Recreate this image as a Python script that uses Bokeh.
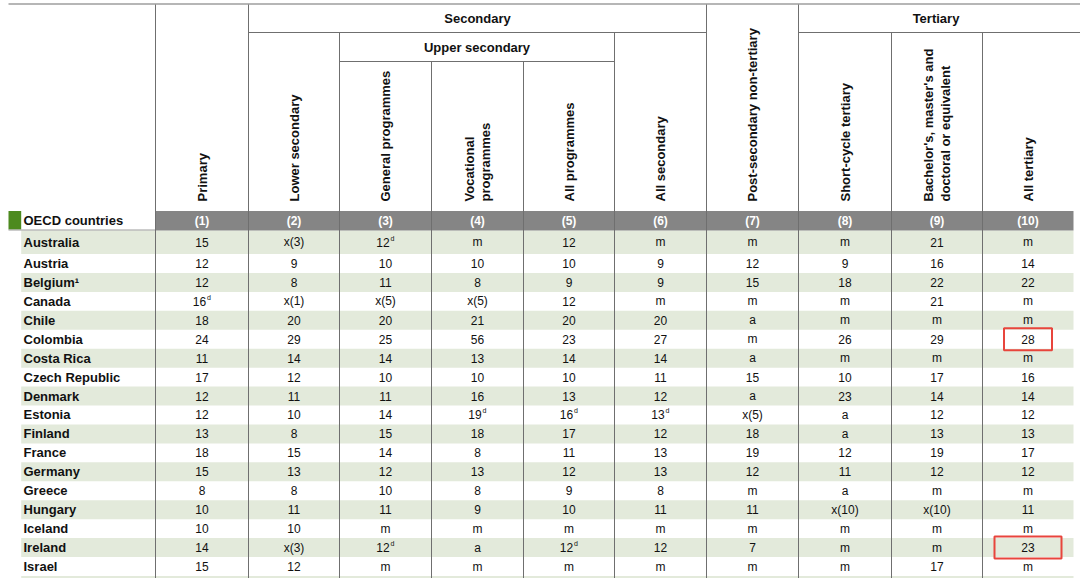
import numpy as np
from bokeh.plotting import figure
from bokeh.models import Range1d
from bokeh.embed import file_html
from bokeh.resources import INLINE
from bokeh.core.properties import value

# ---------------- data ----------------
countries = ["Australia", "Austria", "Belgium\u00b9", "Canada", "Chile", "Colombia",
             "Costa Rica", "Czech Republic", "Denmark", "Estonia", "Finland", "France",
             "Germany", "Greece", "Hungary", "Iceland", "Ireland", "Israel"]

col_primary    = ["15", "12", "12", "16^d", "18", "24", "11", "17", "12", "12", "13", "18", "15", "8", "10", "10", "14", "15"]
col_lower      = ["x(3)", "9", "8", "x(1)", "20", "29", "14", "12", "11", "10", "8", "15", "13", "8", "11", "10", "x(3)", "12"]
col_general    = ["12^d", "10", "11", "x(5)", "20", "25", "14", "10", "11", "14", "15", "14", "12", "10", "11", "m", "12^d", "m"]
col_vocational = ["m", "10", "8", "x(5)", "21", "56", "13", "10", "16", "19^d", "18", "8", "13", "8", "9", "m", "a", "m"]
col_allprog    = ["12", "10", "9", "12", "20", "23", "14", "10", "13", "16^d", "17", "11", "12", "9", "10", "m", "12^d", "m"]
col_allsec     = ["m", "9", "9", "m", "20", "27", "14", "11", "12", "13^d", "12", "13", "13", "8", "11", "m", "12", "m"]
col_postsec    = ["m", "12", "15", "m", "a", "m", "a", "15", "a", "x(5)", "18", "19", "12", "m", "11", "m", "7", "m"]
col_shortcycle = ["m", "9", "18", "m", "m", "26", "m", "10", "23", "a", "a", "12", "11", "a", "x(10)", "m", "m", "m"]
col_bachelor   = ["21", "16", "22", "21", "m", "29", "m", "17", "14", "12", "13", "19", "12", "m", "x(10)", "m", "m", "17"]
col_alltert    = ["m", "14", "22", "m", "m", "28", "m", "16", "14", "12", "13", "17", "12", "m", "11", "m", "23", "m"]

columns = [col_primary, col_lower, col_general, col_vocational, col_allprog,
           col_allsec, col_postsec, col_shortcycle, col_bachelor, col_alltert]

col_headers = [["Primary"], ["Lower secondary"], ["General programmes"],
               ["Vocational", "programmes"], ["All programmes"], ["All secondary"],
               ["Post-secondary non-tertiary"], ["Short-cycle tertiary"],
               ["Bachelor's, master's and", "doctoral or equivalent"], ["All tertiary"]]
col_numbers = ["(1)", "(2)", "(3)", "(4)", "(5)", "(6)", "(7)", "(8)", "(9)", "(10)"]

group_labels = ["Secondary", "Upper secondary", "Tertiary"]
group_first = [1, 2, 7]
group_last = [5, 4, 9]
group_level = [0, 1, 0]

section_label = "OECD countries"

highlight_rows = ["Colombia", "Ireland"]
highlight_cols = [9, 9]

# ---------------- layout ----------------
col_edges = [155, 248, 339, 431, 523, 614, 706, 798, 891, 982, 1073]
edge_tops = [4, 4, 32, 61, 61, 32, 4, 4, 32, 32]
level_bottoms = [32, 61]
level_text_y = [18, 47]
header_text_bottom = 201
band_top, band_bottom = 210.5, 230
first_row_h, row_h = 23.5, 18.94
table_bottom = 600
left_edge, shade_left, right_edge = 8, 20.7, 1073
line_color = "#6f6f6f"
shade_color = "#e3eadb"

FONT = value("Liberation Sans")

W, H = 1080, 578
p = figure(width=W, height=H, output_backend="svg", toolbar_location=None,
           x_range=Range1d(0, W), y_range=Range1d(H, 0),
           min_border=0, outline_line_color=None, background_fill_color="white")
p.axis.visible = False
p.grid.visible = False

n = len(countries)
row_tops = [band_bottom]
for i in range(n + 1):
    row_tops.append(row_tops[-1] + (first_row_h if i == 0 else row_h))
row_centers = [(row_tops[i] + row_tops[i + 1]) / 2 for i in range(n)]

# zebra shading (continues into the next, off-screen row)
sh = [i for i in range(n + 1) if i % 2 == 0]
p.quad(left=shade_left, right=right_edge, top=[row_tops[i] for i in sh],
       bottom=[row_tops[i + 1] for i in sh], fill_color=shade_color, line_color=None)

# grey numbers band
p.quad(left=col_edges[0], right=right_edge, top=band_top, bottom=band_bottom,
       fill_color="#858585", line_color=None)
# green marker
p.quad(left=left_edge, right=shade_left, top=band_top, bottom=band_bottom - 1,
       fill_color="#4d8a1f", line_color=None)
p.segment(x0=left_edge, x1=col_edges[0], y0=band_bottom - 0.5, y1=band_bottom - 0.5,
          line_color="#9a9a9a", line_width=1)

# top border
p.segment(x0=left_edge, x1=W, y0=3.5, y1=3.5, line_color=line_color, line_width=1.2)

# group header lines & labels
gx0 = [col_edges[f] for f in group_first]
gx1 = [col_edges[l + 1] for l in group_last]
gx1 = [W if x == right_edge else x for x in gx1]
gy = [level_bottoms[lv] for lv in group_level]
p.segment(x0=gx0, x1=gx1, y0=gy, y1=gy, line_color=line_color, line_width=1)
p.text(x=[(col_edges[f] + col_edges[l + 1]) / 2 for f, l in zip(group_first, group_last)],
       y=[level_text_y[lv] for lv in group_level],
       text=group_labels, text_align="center", text_baseline="middle",
       text_font=FONT, text_font_style="bold", text_font_size="13px", text_color="#111111")

# vertical lines
p.segment(x0=col_edges[:10], x1=col_edges[:10], y0=edge_tops, y1=table_bottom,
          line_color=line_color, line_width=1)

centers = [(col_edges[i] + col_edges[i + 1]) / 2 for i in range(10)]

# rotated column headers
hx, ht = [], []
for c, lines in zip(centers, col_headers):
    k = len(lines)
    for j, t in enumerate(lines):
        hx.append(c + (j - (k - 1) / 2) * 16.5)
        ht.append(t)
p.text(x=hx, y=header_text_bottom, text=ht, angle=np.pi / 2, text_align="left",
       text_baseline="middle", text_font=FONT, text_font_style="bold",
       text_font_size="13px", text_color="#111111")

# column numbers
p.text(x=centers, y=(band_top + band_bottom) / 2 + 0.5, text=col_numbers, text_align="center",
       text_baseline="middle", text_font=FONT, text_font_style="bold",
       text_font_size="12px", text_color="white")

# section label
p.text(x=[23], y=[(band_top + band_bottom) / 2], text=[section_label], text_baseline="middle",
       text_font=FONT, text_font_style="bold", text_font_size="13px", text_color="#111111")

# country names
p.text(x=23, y=row_centers, text=countries, text_baseline="middle", text_font=FONT,
       text_font_style="bold", text_font_size="13px", text_color="#111111")

# cell values
mx, my, mt, sx, sy, st = [], [], [], [], [], []
for ci, col in enumerate(columns):
    for ri, cell in enumerate(col):
        if "^" in cell:
            main, sup = cell.split("^")
            mx.append(centers[ci] - 2.5); my.append(row_centers[ri]); mt.append(main)
            sx.append(centers[ci] + 5); sy.append(row_centers[ri] - 4); st.append(sup)
        else:
            mx.append(centers[ci]); my.append(row_centers[ri]); mt.append(cell)
p.text(x=mx, y=my, text=mt, text_align="center", text_baseline="middle", text_font=FONT,
       text_font_size="12px", text_color="#111111")
p.text(x=sx, y=sy, text=st, text_align="left", text_baseline="middle", text_font=FONT,
       text_font_size="7px", text_color="#111111")

# highlight boxes
box_w = [48, 67]
hb_x = [centers[c] for c in highlight_cols]
hb_y = [row_centers[countries.index(r)] for r in highlight_rows]
p.rect(x=hb_x, y=hb_y, width=box_w, height=22, fill_color=None,
       line_color="#e8453c", line_width=2)

open("out.html", "w").write(file_html(p, INLINE))
